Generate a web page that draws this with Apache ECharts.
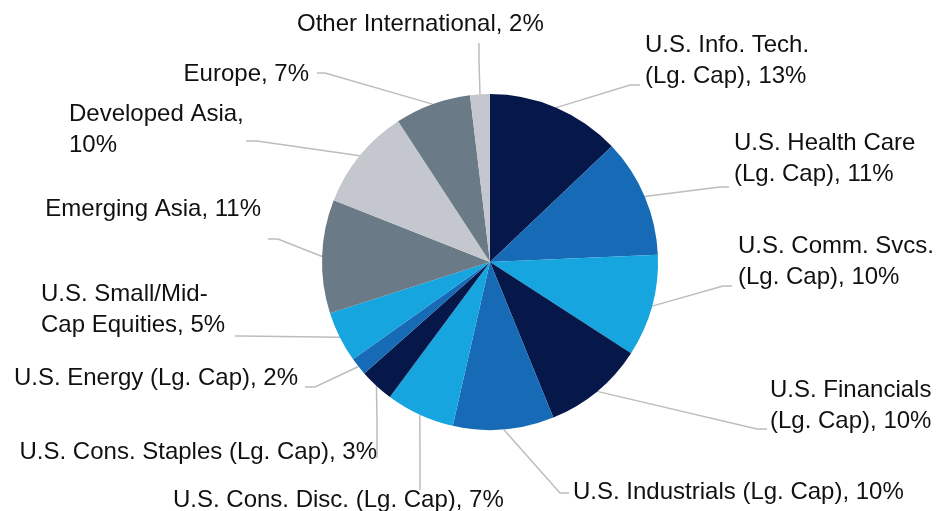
<!DOCTYPE html>
<html>
<head>
<meta charset="utf-8">
<script src="https://cdn.jsdelivr.net/npm/echarts@6/dist/echarts.min.js"></script>
<style>
    html, body { margin: 0; padding: 0; background: #fff; }
    #main { width: 940px; height: 511px; }
</style>
</head>
<body>
<div id="main"></div>
<script>
    // slices, clockwise from 12 o'clock
    var categories = [
        'U.S. Info. Tech.\n(Lg. Cap)',
        'U.S. Health Care\n(Lg. Cap)',
        'U.S. Comm. Svcs.\n(Lg. Cap)',
        'U.S. Financials\n(Lg. Cap)',
        'U.S. Industrials (Lg. Cap)',
        'U.S. Cons. Disc. (Lg. Cap)',
        'U.S. Cons. Staples (Lg. Cap)',
        'U.S. Energy (Lg. Cap)',
        'U.S. Small/Mid-\nCap Equities',
        'Emerging Asia',
        'Developed Asia',
        'Europe',
        'Other International'
    ];
    var weights = [12.9, 11.4, 9.8, 9.7, 9.7, 6.6, 3.3, 1.7, 4.9, 10.9, 9.8, 7.3, 1.9];
    var separators = [', ', ', ', ', ', ', ', ', ', ', ', ', ', ', ', ', ', ', ', ',\n', ', ', ', '];

    var navy = '#06174a', mid = '#176bb6', light = '#16a5de', gray = '#6a7a87', pale = '#c4c8ce';
    var colors = [navy, mid, light, navy, mid, light, navy, mid, light, gray, pale, gray, pale];

    // label placement: anchor, alignment and leader elbow/end
    var labelPos = [
        { x: 645, y: 61,  align: 'left',  elbow: [630, 85],  end: [640, 85] },
        { x: 734, y: 159, align: 'left',  elbow: [720, 187], end: [729, 187] },
        { x: 738, y: 262, align: 'left',  elbow: [723, 286], end: [732, 286] },
        { x: 770, y: 406, align: 'left',  elbow: [757, 429], end: [767, 429] },
        { x: 573, y: 492, align: 'left',  elbow: [560, 493], end: [569, 493] },
        { x: 173, y: 500, align: 'left',  elbow: [420, 460], end: [420, 490] },
        { x: 377, y: 452, align: 'right', elbow: [377, 420], end: [377, 458] },
        { x: 298, y: 378, align: 'right', elbow: [315, 387], end: [305, 387] },
        { x: 41,  y: 310, align: 'left',  elbow: [240, 336], end: [235, 336] },
        { x: 261, y: 209, align: 'right', elbow: [278, 239], end: [268, 239] },
        { x: 69,  y: 130, align: 'left',  elbow: [257, 141], end: [246, 141] },
        { x: 309, y: 74,  align: 'right', elbow: [325, 73],  end: [317, 73] },
        { x: 297, y: 24,  align: 'left',  elbow: [479, 60],  end: [479, 43] }
    ];

    var chart = echarts.init(document.getElementById('main'));

    var seriesData = [];
    for (var i = 0; i < categories.length; i++) {
        seriesData.push({
            name: categories[i],
            value: weights[i],
            itemStyle: { color: colors[i] }
        });
    }

    var option = {
        backgroundColor: '#fff',
        animation: false,
        series: [
            {
                type: 'pie',
                center: [490, 262],
                radius: [0, 168],
                startAngle: 90,
                clockwise: true,
                avoidLabelOverlap: false,
                itemStyle: { borderWidth: 0 },
                label: {
                    show: true,
                    position: 'outside',
                    color: '#111',
                    fontFamily: 'Liberation Sans, Arial, sans-serif',
                    fontSize: 24,
                    lineHeight: 31,
                    formatter: function (p) {
                        return p.name + separators[p.dataIndex] + Math.round(p.value) + '%';
                    }
                },
                labelLine: {
                    show: true,
                    length: 20,
                    length2: 10,
                    smooth: false,
                    lineStyle: { color: '#bdbdbd', width: 1.5 }
                },
                labelLayout: function (params) {
                    var lp = labelPos[params.dataIndex];
                    var start = params.labelLinePoints ? params.labelLinePoints[0] : lp.elbow;
                    return {
                        x: lp.x,
                        y: lp.y,
                        align: lp.align,
                        verticalAlign: 'middle',
                        labelLinePoints: [start, lp.elbow, lp.end]
                    };
                },
                data: seriesData
            }
        ]
    };

    chart.setOption(option);
</script>
</body>
</html>
